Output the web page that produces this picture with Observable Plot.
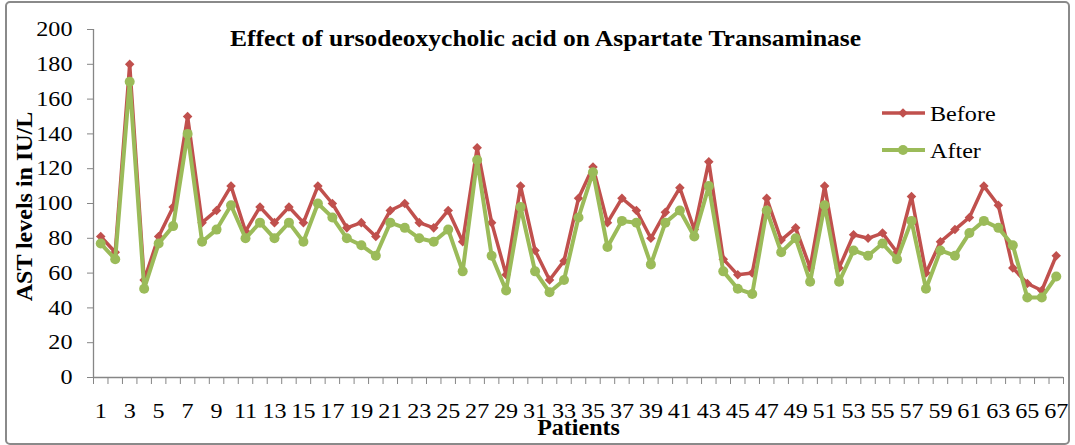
<!DOCTYPE html>
<html>
<head>
<meta charset="utf-8">
<script src="https://cdn.jsdelivr.net/npm/d3@7"></script>
<script src="https://cdn.jsdelivr.net/npm/@observablehq/plot@0.6"></script>
<style>
  body { margin: 0; background: #fff; }
  #wrap { position: relative; width: 1075px; height: 445px; overflow: hidden; font-family: "Liberation Serif", "Times New Roman", serif; }
  #frame { position: absolute; left: 5px; top: 1px; width: 1065px; height: 444px; border: 2px solid #8a8a8a; border-radius: 5px; box-sizing: border-box; pointer-events: none; }
  #legend { position: absolute; left: 0; top: 0; pointer-events: none; }
</style>
</head>
<body>
<div id="wrap">
  <div id="chart"></div>
  <svg id="legend" width="1075" height="445"></svg>
  <div id="frame"></div>
</div>
<script>
const title = "Effect of ursodeoxycholic acid on Aspartate Transaminase";
const yLabel = "AST levels in IU/L";
const xLabel = "Patients";
const seriesNames = ["Before", "After"];
const seriesColors = ["#C0504D", "#9BBB59"];

const patients = Array.from({length: 67}, (_, i) => i + 1);
const before = [81,72,180,56,81,98,150,89,96,110,84,98,89,98,89,110,100,86,89,81,96,100,89,86,96,78,132,89,59,110,73,56,67,103,121,89,103,96,80,95,109,85,124,68,59,60,103,79,86,63,110,63,82,80,83,72,104,60,78,85,92,110,99,63,54,50,70];
const after  = [77,68,170,51,77,87,140,78,85,99,80,89,80,89,78,100,92,80,76,70,89,86,80,78,85,61,125,70,50,98,61,49,56,92,118,75,90,89,65,89,96,81,110,61,51,48,96,72,80,55,99,55,73,70,77,68,90,51,73,70,83,90,86,76,46,46,58];
const xTickLabels = [1,3,5,7,9,11,13,15,17,19,21,23,25,27,29,31,33,35,37,39,41,43,45,47,49,51,53,55,57,59,61,63,65,67];
const yTicks = [0,20,40,60,80,100,120,140,160,180,200];

const data = patients.map((p, i) => ({patient: p, before: before[i], after: after[i]}));
const boundaries = [0, ...patients].map(p => p + 0.5);
const axisGray = "#868686";
const serif = "Liberation Serif, Times New Roman, serif";

const chart = Plot.plot({
  width: 1075,
  height: 445,
  marginLeft: 93,
  marginRight: 12,
  marginTop: 29,
  marginBottom: 68,
  style: {fontFamily: serif, fontSize: "21px", color: "#000", background: "transparent"},
  x: {type: "linear", domain: [0.5, 67.5]},
  y: {domain: [0, 200]},
  marks: [
    Plot.axisY({ticks: yTicks, tickSize: 6, tickPadding: 15, fontSize: 21, stroke: axisGray, fill: "#000", label: null}),
    Plot.axisX({ticks: boundaries, tickSize: 7, tickFormat: () => "", stroke: axisGray, label: null}),
    Plot.axisX({ticks: xTickLabels, tickSize: 0, tickPadding: 26, fontSize: 21, fill: "#000", label: null}),
    Plot.ruleX([0.5], {stroke: axisGray, strokeWidth: 1.3}),
    Plot.ruleY([0], {stroke: axisGray, strokeWidth: 1.3}),
    Plot.line(data, {x: "patient", y: "before", stroke: seriesColors[0], strokeWidth: 3.5}),
    Plot.dot(data, {x: "patient", y: "before", symbol: "diamond2", r: 4.3, fill: seriesColors[0], stroke: "none"}),
    Plot.line(data, {x: "patient", y: "after", stroke: seriesColors[1], strokeWidth: 4}),
    Plot.dot(data, {x: "patient", y: "after", symbol: "circle", r: 5, fill: seriesColors[1], stroke: "none"}),
    Plot.text([title], {frameAnchor: "top", textAnchor: "middle", lineAnchor: "middle", dx: -33, dy: 9, fontSize: 23, fontWeight: "bold", fill: "#000"}),
    Plot.text([yLabel], {frameAnchor: "left", textAnchor: "middle", lineAnchor: "middle", dx: -69, dy: 3, rotate: -90, fontSize: 24, fontWeight: "bold", fill: "#000"}),
    Plot.text([xLabel], {frameAnchor: "bottom", textAnchor: "middle", lineAnchor: "middle", dx: 0, dy: 50, fontSize: 24, fontWeight: "bold", fill: "#000"})
  ]
});
document.getElementById("chart").appendChild(chart);

// widen glyphs like the reference rendering
chart.querySelectorAll("text").forEach(t => {
  const txt = t.textContent;
  let s = null;
  if (txt === title) s = 1.11;
  else if (/^\d+$/.test(txt)) s = 1.15;
  if (s) {
    const tr = t.getAttribute("transform") || "";
    t.setAttribute("transform", tr + ` scale(${s},1)`);
  }
});

// legend
const lg = d3.select("#legend");
const items = [
  {name: seriesNames[0], color: seriesColors[0], y: 113, sym: d3.symbolDiamond2, size: 60, w: 3.5},
  {name: seriesNames[1], color: seriesColors[1], y: 150, sym: d3.symbolCircle, size: Math.PI * 25, w: 4}
];
items.forEach(it => {
  lg.append("line").attr("x1", 882).attr("x2", 925).attr("y1", it.y).attr("y2", it.y)
    .attr("stroke", it.color).attr("stroke-width", it.w);
  lg.append("path").attr("d", d3.symbol(it.sym, it.size)()).attr("transform", `translate(903,${it.y})`).attr("fill", it.color);
  lg.append("text").text(it.name).attr("transform", `translate(930,${it.y + 8}) scale(1.15,1)`)
    .attr("font-family", serif).attr("font-size", 21).attr("fill", "#000");
});
</script>
</body>
</html>
